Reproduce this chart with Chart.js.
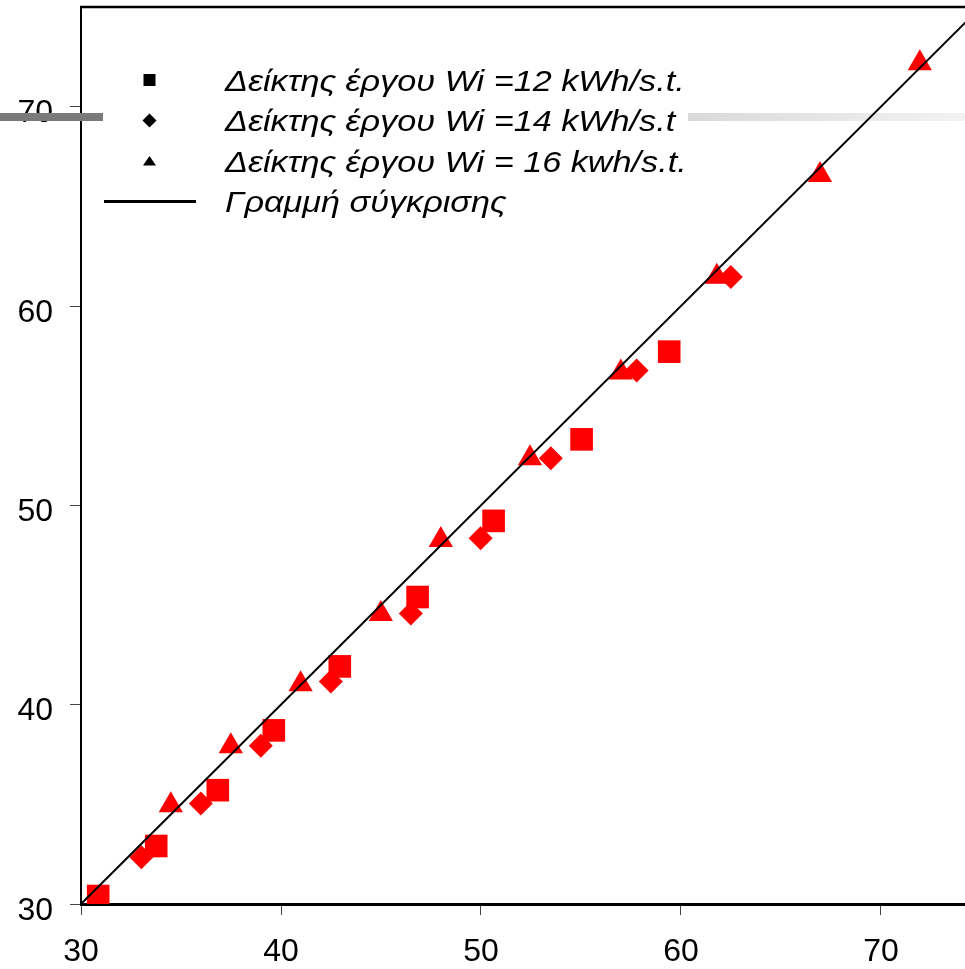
<!DOCTYPE html>
<html>
<head>
<meta charset="utf-8">
<script src="https://cdn.jsdelivr.net/npm/chart.js@4"></script>
<style>
  html, body { margin: 0; padding: 0; overflow: hidden; background: #fff; }
  #wrap { width: 965px; height: 969px; position: relative; }
</style>
</head>
<body>
<div id="wrap"><canvas id="chart"></canvas></div>
<script>
const seriesLabels = [
    'Δείκτης έργου Wi =12 kWh/s.t.',
    'Δείκτης έργου Wi =14 kWh/s.t',
    'Δείκτης έργου Wi = 16 kwh/s.t.',
    'Γραμμή σύγκρισης'
];

const wi12X = [30.86, 33.76, 36.84, 39.64, 42.94, 46.83, 50.63, 55.03, 59.41];
const wi12Y = [30.40, 32.91, 35.71, 38.71, 41.92, 45.40, 49.22, 53.31, 57.71];

const wi14X = [33.02, 35.99, 38.99, 42.49, 46.49, 49.98, 53.49, 57.78, 62.49];
const wi14Y = [32.34, 35.04, 37.94, 41.16, 44.57, 48.35, 52.36, 56.77, 61.46];

const wi16X = [34.49, 37.49, 40.98, 44.99, 47.99, 52.45, 56.99, 61.79, 66.95, 71.94];
const wi16Y = [34.96, 37.92, 41.03, 44.55, 48.26, 52.36, 56.67, 61.47, 66.57, 72.18];

const refLineX = [30, 75];
const refLineY = [30, 75];

const xTicks = [30, 40, 50, 60, 70];
const yTicks = [30, 40, 50, 60, 70];

const toPoints = (xs, ys) => xs.map((x, i) => ({ x: x, y: ys[i] }));

const red = '#ff0000';
const tickFont = { family: 'Liberation Sans, Arial, sans-serif', size: 32 };

// grey bars, top frame line and the legend box
const decor = {
    id: 'decor',
    beforeDatasetsDraw(chart) {
        const { ctx, chartArea } = chart;
        ctx.save();
        ctx.fillStyle = '#7a7a7a';
        ctx.fillRect(0, 113, 103, 8);
        const g = ctx.createLinearGradient(688, 0, 965, 0);
        g.addColorStop(0, '#d9d9d9');
        g.addColorStop(1, '#f3f3f3');
        ctx.fillStyle = g;
        ctx.fillRect(688, 113, 277, 8);

        ctx.strokeStyle = '#000';
        ctx.lineWidth = 2.5;
        ctx.beginPath();
        ctx.moveTo(chartArea.left - 1, chartArea.top);
        ctx.lineTo(chartArea.right, chartArea.top);
        ctx.stroke();
        ctx.restore();
    },
    afterDraw(chart) {
        const ctx = chart.ctx;
        const rows = [80, 120.5, 161, 201.5];
        const mx = 149.5;
        ctx.save();
        ctx.fillStyle = '#000';
        // square
        ctx.fillRect(mx - 6, rows[0] - 6, 12, 12);
        // diamond
        ctx.beginPath();
        ctx.moveTo(mx - 7, rows[1]);
        ctx.lineTo(mx, rows[1] - 7);
        ctx.lineTo(mx + 7, rows[1]);
        ctx.lineTo(mx, rows[1] + 7);
        ctx.closePath();
        ctx.fill();
        // triangle
        ctx.beginPath();
        ctx.moveTo(mx, rows[2] - 5);
        ctx.lineTo(mx + 6.5, rows[2] + 4.5);
        ctx.lineTo(mx - 6.5, rows[2] + 4.5);
        ctx.closePath();
        ctx.fill();
        // line
        ctx.strokeStyle = '#000';
        ctx.lineWidth = 3;
        ctx.beginPath();
        ctx.moveTo(104, rows[3]);
        ctx.lineTo(196, rows[3]);
        ctx.stroke();

        ctx.font = 'italic 30px "Liberation Sans", Arial, sans-serif';
        ctx.textBaseline = 'alphabetic';
        ctx.textAlign = 'left';
        seriesLabels.forEach((t, i) => {
            ctx.save();
            ctx.translate(225, rows[i] + 10.5);
            ctx.scale(1.14, 1);
            ctx.fillText(t, 0, 0);
            ctx.restore();
        });
        ctx.restore();
    }
};

const ctx = document.getElementById('chart').getContext('2d');
new Chart(ctx, {
    type: 'scatter',
    data: {
        datasets: [
            {
                type: 'line',
                label: seriesLabels[3],
                data: toPoints(refLineX, refLineY),
                borderColor: '#000',
                borderWidth: 2,
                pointRadius: 0,
                fill: false,
                order: 0
            },
            {
                label: seriesLabels[0],
                data: toPoints(wi12X, wi12Y),
                pointStyle: 'rect',
                pointRadius: 16,
                backgroundColor: red,
                borderWidth: 0,
                order: 1
            },
            {
                label: seriesLabels[1],
                data: toPoints(wi14X, wi14Y),
                pointStyle: 'rectRot',
                pointRadius: 12,
                backgroundColor: red,
                borderWidth: 0,
                order: 1
            },
            {
                label: seriesLabels[2],
                data: toPoints(wi16X, wi16Y),
                pointStyle: 'triangle',
                pointRadius: 14,
                backgroundColor: red,
                borderWidth: 0,
                order: 1
            }
        ]
    },
    options: {
        responsive: true,
        maintainAspectRatio: false,
        animation: false,
        layout: { autoPadding: false, padding: { top: 7, left: 0, right: 0, bottom: 0 } },
        plugins: {
            legend: { display: false },
            tooltip: { enabled: false }
        },
        scales: {
            x: {
                type: 'linear',
                min: 30,
                max: 74.2,
                afterBuildTicks: scale => { scale.ticks = xTicks.map(v => ({ value: v })); },
                afterFit: scale => {
                    scale.height = 65;
                    scale.paddingLeft = 0;
                    scale.paddingRight = 0;
                },
                grid: { drawOnChartArea: false, tickLength: 11, color: '#444', lineWidth: 1 },
                border: { display: true, color: '#000', width: 3 },
                ticks: { font: tickFont, color: '#000', padding: 18, maxRotation: 0 }
            },
            y: {
                type: 'linear',
                min: 30,
                max: 75,
                afterBuildTicks: scale => { scale.ticks = yTicks.map(v => ({ value: v })); },
                afterFit: scale => {
                    scale.width = 81;
                    scale.paddingTop = 0;
                    scale.paddingBottom = 0;
                },
                grid: { drawOnChartArea: false, tickLength: 11, color: '#444', lineWidth: 1 },
                border: { display: true, color: '#000', width: 2 },
                ticks: { font: tickFont, color: '#000', padding: 17, labelOffset: 7 }
            }
        }
    },
    plugins: [decor]
});
</script>
</body>
</html>
